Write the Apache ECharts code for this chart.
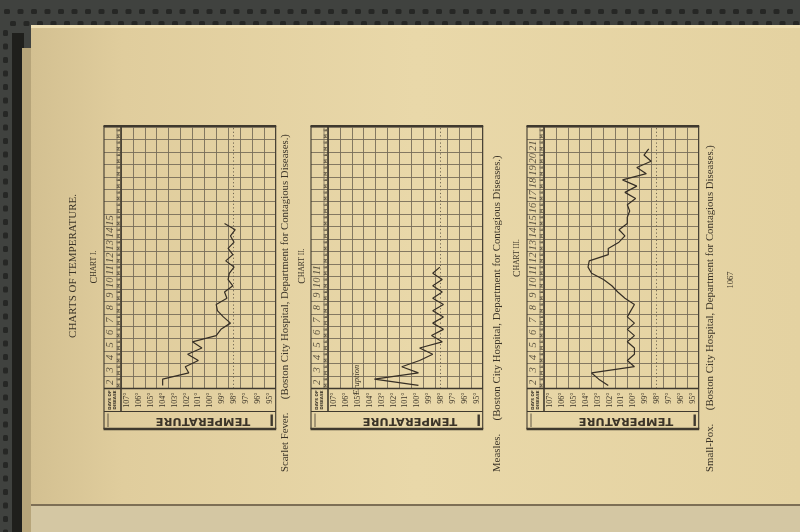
<!DOCTYPE html>
<html><head><meta charset="utf-8">
<script src="https://cdn.jsdelivr.net/npm/echarts/dist/echarts.min.js"></script>
<style>html,body{margin:0;padding:0;background:#2f312e}#c{width:800px;height:532px}</style>
</head><body><div id="c"></div>
<script>
// ---------- data ----------
const tempLabels = ['107°','106°','105°','104°','103°','102°','101°','100°','99°','98°','97°','96°','95°'];
const meLabels = ['M','E'];
const scarletDays = ['2','3','4','5','6','7','8','9','10','11','12','13','14','15'];
const measlesDays = ['2','3','4','5','6','7','8','9','10','11'];
const smallpoxDays = ['2','3','4','5','6','7','8','9','10','11','12','13','14','15','16','17','18','19','20','21'];
// temperatures, morning/evening alternating from day 2 morning
const scarletTemps = [104.5,104.5, 102.3,102.6, 101.5,102.4, 101.2,102.0, 100.0,99.6, 98.8,99.4, 99.9,100.0,
  99.1,99.3, 98.6,99.0, 98.9,98.5, 99.2,98.6, 99.0,98.5, 98.8,98.4, 99.3];
const measlesTemps = [100.4,104.1, 100.4,101.8, 100.3,99.2, 100.3,98.4, 99.3,98.3, 99.2,98.3, 99.2,98.3,
  99.2,98.4, 99.2,98.4, 99.2,98.6];
const smallpoxTemps = [102.6,103.4, 104.0,100.4, 101.0,100.4, 100.4,101.0, 100.4,101.0, 100.4,101.0, 100.7,100.4,
  101.2,101.8, 102.3,103.0, 104.0,104.3, 104.2,102.6, 102.6,101.7, 101.2,101.7, 101.0,101.0, 100.8,101.0,
  100.3,101.2, 100.2,101.4, 99.4,100.2, 99.0,99.6, 99.2];
const normalTemp = 98.6;
const titleText = 'CHARTS OF TEMPERATURE.';
const chartNames = ['I.','II.','III.'];
const diseases = ['Scarlet Fever.','Measles.','Small-Pox.'];
const sourceText = '(Boston City Hospital, Department for Contagious Diseases.)';
const pageNumber = '1067';

// ---------- layout ----------
const lefts = [104, 311, 527];
const TOP = 127, NDAYS = 21, GRID_H = 261.5;
const HEAD_W = 17, CELL_W = 11.9, GRID_W = 13 * CELL_W, FRAME_W = HEAD_W + GRID_W;
const G = TOP + GRID_H, LBL_H = 23, BOTTOM = 429;
const captionX = [285, 497, 710];
const titleX = [94, 302, 517];
const titleY = [267, 266, 258];
const INK = '#3b3428', GRIDC = '#776d59';

const chartSets = [
  {days: scarletDays, temps: scarletTemps},
  {days: measlesDays, temps: measlesTemps},
  {days: smallpoxDays, temps: smallpoxTemps}
];

const grids = [], xAxes = [], yAxes = [], series = [], graphic = [];

// background
graphic.push({type:'rect', z:-20, shape:{x:0,y:0,width:800,height:532}, style:{fill:'#40423f'}});
for (let x = 4; x < 800; x += 13.5) {
  graphic.push({type:'rect', z:-19, shape:{x:x,y:9,width:6,height:5,r:1.5}, style:{fill:'#262725'}});
  graphic.push({type:'rect', z:-19, shape:{x:x+6,y:21,width:6,height:5,r:1.5}, style:{fill:'#262725'}});
}
for (let y = 30; y < 532; y += 13.5) {
  graphic.push({type:'rect', z:-19, shape:{x:3,y:y,width:5,height:6,r:1.5}, style:{fill:'#262725'}});
}
graphic.push({type:'rect', z:-18, shape:{x:12,y:33,width:12,height:499}, style:{fill:'#1f1f1c'}});
graphic.push({type:'rect', z:-18, shape:{x:22,y:48,width:10,height:484}, style:{fill:'#b7a57a'}});
graphic.push({type:'rect', z:-17, shape:{x:31,y:25,width:769,height:482},
  style:{fill:{type:'linear',x:0,y:0,x2:1,y2:0,colorStops:[
    {offset:0,color:'#d3c091'},{offset:0.12,color:'#e0cd9d'},{offset:0.5,color:'#e9d8a9'},{offset:1,color:'#e4d2a1'}]}}});
graphic.push({type:'rect', z:-16, shape:{x:31,y:25,width:769,height:3}, style:{fill:'#efe0b5'}});
graphic.push({type:'rect', z:-16, shape:{x:31,y:504,width:769,height:2}, style:{fill:'#7d6f55'}});
graphic.push({type:'rect', z:-17, shape:{x:31,y:506,width:769,height:26}, style:{fill:'#d4c7a3'}});

// main title
graphic.push({type:'text', z:10, x:73, y:266, rotation:Math.PI/2,
  style:{text:titleText, font:'11px "Liberation Serif"', fill:INK, align:'center', verticalAlign:'middle'}});

chartSets.forEach((cs, c) => {
  const L = lefts[c];
  grids.push({left:L+HEAD_W, top:TOP, width:GRID_W, height:GRID_H});
  grids.push({left:L, top:TOP, width:HEAD_W, height:GRID_H});
  xAxes.push({type:'value', gridIndex:2*c, min:95, max:108, interval:1, inverse:true, position:'top',
    axisLine:{show:false}, axisTick:{show:false}, axisLabel:{show:false},
    splitLine:{show:true, lineStyle:{color:GRIDC, width:0.9}}});
  xAxes.push({type:'category', gridIndex:2*c, data:tempLabels, boundaryGap:true, position:'bottom',
    axisLine:{show:false}, axisTick:{show:false}, splitLine:{show:false},
    axisLabel:{interval:0, rotate:90, margin:4, fontSize:8, fontFamily:'Liberation Serif', color:INK}});
  xAxes.push({type:'value', gridIndex:2*c+1, min:0, max:HEAD_W, show:false});
  yAxes.push({type:'value', gridIndex:2*c, min:0, max:2*NDAYS, interval:2,
    axisLine:{show:false}, axisTick:{show:false}, axisLabel:{show:false},
    splitLine:{show:true, lineStyle:{color:GRIDC, width:0.9}}});
  yAxes.push({type:'value', gridIndex:2*c+1, min:0, max:2*NDAYS, interval:2,
    axisLine:{show:false}, axisTick:{show:false}, axisLabel:{show:false},
    splitLine:{show:true, lineStyle:{color:GRIDC, width:0.9}}});

  const pts = [];
  cs.temps.forEach((t, i) => { if (t != null) pts.push([t, i + 0.5]); });
  const lineSeries = {type:'line', xAxisIndex:3*c, yAxisIndex:2*c, data:pts, symbol:'none',
    lineStyle:{color:'#352e25', width:1.2}, z:5,
    markLine:{silent:true, symbol:['none','none'], label:{show:false},
      lineStyle:{type:[1.2,2.4], color:'#6e6450', width:1}, data:[{xAxis:normalTemp}]}};
  if (c === 1) {
    lineSeries.markPoint = {symbolSize:0, data:[{coord:[105.6, 1.4],
      label:{show:true, formatter:'Eruption', rotate:90, fontStyle:'italic', fontSize:8.5,
        fontFamily:'Liberation Serif', color:INK}}]};
  }
  series.push(lineSeries);
  series.push({type:'scatter', xAxisIndex:3*c+2, yAxisIndex:2*c+1, symbolSize:1,
    itemStyle:{color:'rgba(0,0,0,0)'}, z:6,
    data:cs.days.map((d, k) => ({value:[6.5, 2*k+1], name:d})),
    label:{show:true, position:'inside', rotate:90, formatter:p => p.name,
      fontStyle:'italic', fontSize:10.5, fontFamily:'Liberation Serif', color:INK}});
  const me = [];
  for (let k = 0; k < 2*NDAYS; k++) me.push({value:[15, k + 0.5], name:meLabels[k % 2]});
  series.push({type:'scatter', xAxisIndex:3*c+2, yAxisIndex:2*c+1, symbolSize:1,
    itemStyle:{color:'rgba(0,0,0,0)'}, z:6, data:me,
    label:{show:true, position:'inside', rotate:90, formatter:p => p.name,
      fontSize:4.5, fontWeight:'bold', fontFamily:'DejaVu Sans', color:INK}});

  const R = L + FRAME_W;
  const line = (x1,y1,x2,y2,w,col) => graphic.push({type:'line', z:8,
    shape:{x1,y1,x2,y2}, style:{stroke:col||'#3f392e', lineWidth:w}});
  line(L-0.5, TOP-1, R+0.5, TOP-1, 2.2);
  line(L-0.5, BOTTOM, R+0.5, BOTTOM, 2.6);
  line(L, TOP-1, L, BOTTOM, 1.1);
  line(R, TOP-1, R, BOTTOM, 1.1);
  line(L+HEAD_W, TOP, L+HEAD_W, G+LBL_H, 1.6);
  line(L+13, TOP, L+13, G, 0.8, GRIDC);
  line(L, G, R, G, 1.4);
  line(L, G+LBL_H, R, G+LBL_H, 1.0);
  line(L+4, G+LBL_H+2, L+4, BOTTOM-2, 0.8);
  line(R-4, G+LBL_H+3, R-4, BOTTOM-3, 2.4);
  graphic.push({type:'text', z:10, x:L+8.5, y:G+LBL_H/2, rotation:Math.PI/2,
    style:{text:'DAYS OF\nDISEASE', font:'bold 4px "DejaVu Sans"', fill:INK, align:'center', verticalAlign:'middle', lineHeight:4.5}});
  graphic.push({type:'text', z:10, x:L+99, y:(G+LBL_H+BOTTOM)/2, rotation:Math.PI, scaleX:1.1,
    style:{text:'TEMPERATURE', font:'bold 10.5px "DejaVu Sans"', fill:INK, align:'center', verticalAlign:'middle'}});
  graphic.push({type:'text', z:10, x:titleX[c], y:titleY[c], rotation:Math.PI/2,
    style:{text:'{a|C}{b|HART ' + chartNames[c] + '}', align:'center', verticalAlign:'middle',
      rich:{a:{font:'10px "Liberation Serif"', fill:INK}, b:{font:'7.5px "Liberation Serif"', fill:INK}}}});
  graphic.push({type:'text', z:10, x:captionX[c], y:472, rotation:Math.PI/2,
    style:{text:diseases[c] + '     ' + sourceText, font:'10.8px "Liberation Serif"', fill:INK, align:'left', verticalAlign:'middle'}});
});
graphic.push({type:'text', z:10, x:731, y:280, rotation:Math.PI/2,
  style:{text:pageNumber, font:'8.5px "Liberation Serif"', fill:INK, align:'center', verticalAlign:'middle'}});

const chart = echarts.init(document.getElementById('c'), null, {renderer:'canvas'});
chart.setOption({animation:false, backgroundColor:'transparent', grid:grids, xAxis:xAxes, yAxis:yAxes,
  series:series, graphic:graphic});
</script></body></html>
